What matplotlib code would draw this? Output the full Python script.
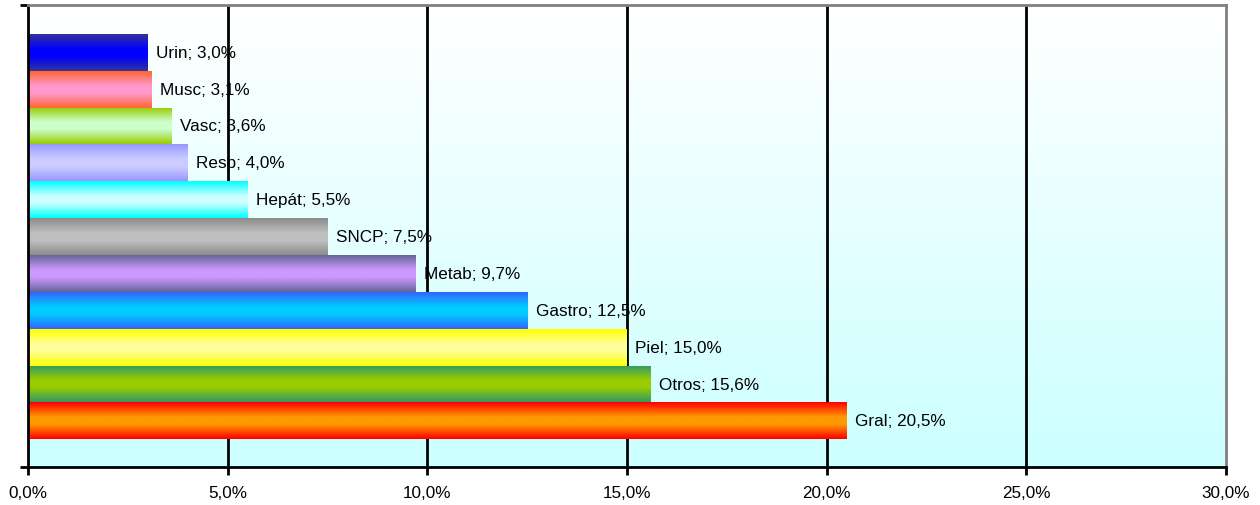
import matplotlib
import numpy as np

matplotlib.use("Agg")
import matplotlib.pyplot as plt
from matplotlib.colors import to_rgb
from matplotlib.ticker import FuncFormatter

plt.rcParams["font.family"] = ["Liberation Sans", "DejaVu Sans"]

# bottom to top, as drawn
categories = ["Gral", "Otros", "Piel", "Gastro", "Metab", "SNCP",
              "Hepát", "Resp", "Vasc", "Musc", "Urin"]
values = [20.5, 15.6, 15.0, 12.5, 9.7, 7.5, 5.5, 4.0, 3.6, 3.1, 3.0]
edge_colors = ["#FF0000", "#339966", "#FFFF00", "#3366FF", "#666699", "#8C8C8C",
               "#00FFFF", "#9999FF", "#99CC00", "#FF6633", "#333399"]
center_colors = ["#FF9900", "#99CC00", "#FFFF99", "#00CCFF", "#CC99FF", "#C0C0C0",
                 "#CCFFFF", "#CCCCFF", "#CCFFCC", "#FF99CC", "#0000FF"]
x_ticks = [0, 5, 10, 15, 20, 25, 30]


def bar_gradient(edge, center, steps=64):
    edge = np.array(to_rgb(edge))
    center = np.array(to_rgb(center))
    t = np.abs(np.linspace(-1.0, 1.0, steps))
    t = np.clip(t * 1.25 - 0.25, 0.0, 1.0)
    rows = center[None, :] + (edge - center)[None, :] * t[:, None]
    return rows[:, None, :]


def percent_label(value):
    return f"{value:.1f}%".replace(".", ",")


fig = plt.figure(figsize=(12.6, 5.06), dpi=100)
ax = fig.add_axes([28 / 1260, 38 / 506, 1198 / 1260, 462 / 506])

y_pos = np.arange(len(categories))
ax.set_xlim(0, 30)
ax.set_ylim(-1.25, len(categories) - 0.5 + 0.78)

# background gradient, white at top to pale cyan at bottom
bg_top = np.array(to_rgb("#FFFFFF"))
bg_bot = np.array(to_rgb("#CCFFFF"))
bg = np.linspace(bg_top, bg_bot, 128)[:, None, :]
ax.imshow(bg, extent=[0, 1, 0, 1], transform=ax.transAxes, aspect="auto",
          interpolation="bilinear", zorder=0)

for x in x_ticks[1:-1]:
    ax.axvline(x, color="black", linewidth=2, zorder=1)

bars = ax.barh(y_pos, values, height=1.0, facecolor="none", edgecolor="none", zorder=2)
for bar, value, edge, center in zip(bars, values, edge_colors, center_colors):
    y0 = bar.get_y()
    img = ax.imshow(bar_gradient(edge, center), extent=[0, value, y0, y0 + 1.0],
                    aspect="auto", interpolation="bilinear", zorder=2)
    img.set_clip_path(bar)

for y, name, value in zip(y_pos, categories, values):
    ax.annotate(f"{name}; {percent_label(value)}", xy=(value, y), xytext=(6, 0),
                textcoords="offset points", va="center", ha="left",
                fontsize=12.3, color="black", zorder=3)

ax.set_xticks(x_ticks)
ax.xaxis.set_major_formatter(FuncFormatter(lambda v, _: percent_label(v)))
ax.set_yticks(list(ax.get_ylim()))
ax.set_yticklabels([])
ax.tick_params(axis="x", direction="out", length=6, width=2, labelsize=12.3, pad=7)
ax.tick_params(axis="y", direction="out", length=6, width=2)

for side in ("left", "bottom"):
    ax.spines[side].set_color("black")
    ax.spines[side].set_linewidth(2)
for side in ("top", "right"):
    ax.spines[side].set_color("#808080")
    ax.spines[side].set_linewidth(2)

fig.savefig("out.png", dpi=100)
plt.close(fig)
